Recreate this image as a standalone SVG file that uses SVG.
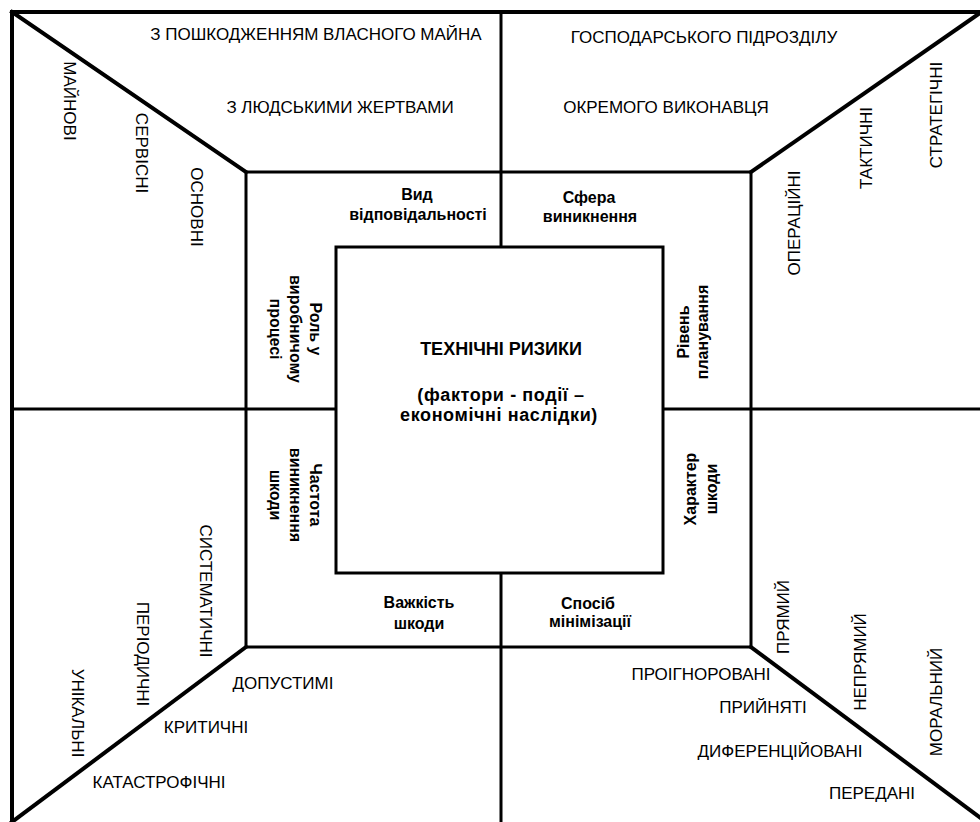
<svg xmlns="http://www.w3.org/2000/svg" width="980" height="822" viewBox="0 0 980 822">
<style>
.bg{fill:#ffffff}
.thick{stroke:#000;stroke-width:4;fill:none;stroke-linecap:square}
.thin{stroke:#000;stroke-width:3;fill:none}
.box{stroke:#000;stroke-width:3;fill:#fff}
.v{font-family:"Liberation Sans",Arial,sans-serif;font-size:17px;fill:#000;text-anchor:middle}
.b{font-family:"Liberation Sans",Arial,sans-serif;font-size:16px;font-weight:bold;fill:#000;text-anchor:middle}
.t{font-family:"Liberation Sans",Arial,sans-serif;font-size:18px;font-weight:bold;fill:#000;text-anchor:middle}
</style>
<rect class="bg" x="0" y="0" width="980" height="822"/>
<g id="connectors">
  <line class="thick" x1="12" y1="12" x2="990" y2="12"/>
  <line class="thick" x1="12" y1="12" x2="12" y2="830"/>
  <line class="thick" x1="12" y1="12" x2="246" y2="172"/>
  <line class="thick" x1="980" y1="13" x2="751" y2="172"/>
  <line class="thick" x1="246" y1="647" x2="12" y2="822"/>
  <line class="thick" x1="751" y1="647" x2="982" y2="819"/>
  <rect class="thin" x="246" y="172" width="505" height="475"/>
  <line class="thin" x1="501" y1="12" x2="501" y2="247"/>
  <line class="thin" x1="501" y1="573" x2="501" y2="830"/>
  <line class="thin" x1="12" y1="409" x2="336" y2="409"/>
  <line class="thin" x1="663" y1="409" x2="990" y2="409"/>
</g>
<g id="center">
  <rect class="box" x="336" y="247" width="327" height="326"/>
  <text class="t" x="501" y="355">ТЕХНІЧНІ  РИЗИКИ</text>
  <text class="t" x="501" y="401" letter-spacing="0.6">(фактори - події –</text>
  <text class="t" x="499" y="421" letter-spacing="0.6">економічні наслідки)</text>
</g>
<g id="vid-vidpovidalnosti">
  <text class="b" x="417" y="200">Вид</text>
  <text class="b" x="418" y="220">відповідальності</text>
  <text class="v" x="316" y="40">З ПОШКОДЖЕННЯМ ВЛАСНОГО МАЙНА</text>
  <text class="v" x="340" y="113">З ЛЮДСЬКИМИ ЖЕРТВАМИ</text>
</g>
<g id="sfera-vynyknennia">
  <text class="b" x="589" y="203">Сфера</text>
  <text class="b" x="590" y="222">виникнення</text>
  <text class="v" x="704" y="43">ГОСПОДАРСЬКОГО ПІДРОЗДІЛУ</text>
  <text class="v" x="666" y="113">ОКРЕМОГО ВИКОНАВЦЯ</text>
</g>
<g id="rol-u-vyrobnychomu-protsesi">
  <text class="b" transform="translate(310,329) rotate(90)"><tspan x="0" dy="0">Роль у</tspan><tspan x="0" dy="20">виробничому</tspan><tspan x="0" dy="20">процесі</tspan></text>
  <text class="v" transform="translate(64,101) rotate(90)">МАЙНОВІ</text>
  <text class="v" transform="translate(136,153) rotate(90)">СЕРВІСНІ</text>
  <text class="v" transform="translate(191,207) rotate(90)">ОСНОВНІ</text>
</g>
<g id="riven-planuvannia">
  <text class="b" transform="translate(689,332) rotate(-90)"><tspan x="0" dy="0">Рівень</tspan><tspan x="0" dy="19">планування</tspan></text>
  <text class="v" transform="translate(800,223) rotate(-90)">ОПЕРАЦІЙНІ</text>
  <text class="v" transform="translate(872,148) rotate(-90)">ТАКТИЧНІ</text>
  <text class="v" transform="translate(942,115) rotate(-90)">СТРАТЕГІЧНІ</text>
</g>
<g id="chastota-vynyknennia-shkody">
  <text class="b" transform="translate(310,495) rotate(90)"><tspan x="0" dy="0">Частота</tspan><tspan x="0" dy="20">виникнення</tspan><tspan x="0" dy="20">шкоди</tspan></text>
  <text class="v" transform="translate(200,591) rotate(90)">СИСТЕМАТИЧНІ</text>
  <text class="v" transform="translate(137,654) rotate(90)">ПЕРІОДИЧНІ</text>
  <text class="v" transform="translate(72,713) rotate(90)">УНІКАЛЬНІ</text>
</g>
<g id="kharakter-shkody">
  <text class="b" transform="translate(696,489) rotate(-90)"><tspan x="0" dy="0">Характер</tspan><tspan x="0" dy="21">шкоди</tspan></text>
  <text class="v" transform="translate(789,617) rotate(-90)">ПРЯМИЙ</text>
  <text class="v" transform="translate(866,662) rotate(-90)">НЕПРЯМИЙ</text>
  <text class="v" transform="translate(942,702) rotate(-90)">МОРАЛЬНИЙ</text>
</g>
<g id="vazhkist-shkody">
  <text class="b" x="419" y="608">Важкість</text>
  <text class="b" x="419" y="629">шкоди</text>
  <text class="v" x="283" y="689">ДОПУСТИМІ</text>
  <text class="v" x="206" y="733">КРИТИЧНІ</text>
  <text class="v" x="159" y="788">КАТАСТРОФІЧНІ</text>
</g>
<g id="sposib-minimizatsii">
  <text class="b" x="588" y="609">Спосіб</text>
  <text class="b" x="590" y="627">мінімізації</text>
  <text class="v" x="701" y="680">ПРОІГНОРОВАНІ</text>
  <text class="v" x="763" y="713">ПРИЙНЯТІ</text>
  <text class="v" x="780" y="757">ДИФЕРЕНЦІЙОВАНІ</text>
  <text class="v" x="872" y="799">ПЕРЕДАНІ</text>
</g>
</svg>
